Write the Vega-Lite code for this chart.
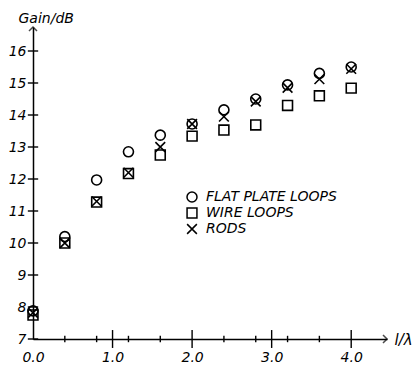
{
  "$schema": "https://vega.github.io/schema/vega-lite/v6.json",
  "width": 354,
  "height": 312,
  "autosize": {"type": "none"},
  "padding": {"left": 33, "top": 27, "right": 27, "bottom": 27},
  "background": "white",
  "config": {"view": {"stroke": null}, "font": "DejaVu Sans", "axis": {"labelOverlap": false, "labelFlush": false}},
  "datasets": {
    "ticks": [
      {"x": -0.065, "x2": 0.065, "y": 7, "y2": 7},
      {"x": -0.065, "x2": 0.065, "y": 8, "y2": 8},
      {"x": -0.065, "x2": 0.065, "y": 9, "y2": 9},
      {"x": -0.065, "x2": 0.065, "y": 10, "y2": 10},
      {"x": -0.065, "x2": 0.065, "y": 11, "y2": 11},
      {"x": -0.065, "x2": 0.065, "y": 12, "y2": 12},
      {"x": -0.065, "x2": 0.065, "y": 13, "y2": 13},
      {"x": -0.065, "x2": 0.065, "y": 14, "y2": 14},
      {"x": -0.065, "x2": 0.065, "y": 15, "y2": 15},
      {"x": -0.065, "x2": 0.065, "y": 16, "y2": 16},
      {"x": 0.4, "x2": 0.4, "y": 6.9, "y2": 7.1},
      {"x": 0.8, "x2": 0.8, "y": 6.9, "y2": 7.1},
      {"x": 1.0, "x2": 1.0, "y": 6.72, "y2": 7.28},
      {"x": 1.2, "x2": 1.2, "y": 6.9, "y2": 7.1},
      {"x": 1.6, "x2": 1.6, "y": 6.9, "y2": 7.1},
      {"x": 2.0, "x2": 2.0, "y": 6.72, "y2": 7.28},
      {"x": 2.4, "x2": 2.4, "y": 6.9, "y2": 7.1},
      {"x": 2.8, "x2": 2.8, "y": 6.9, "y2": 7.1},
      {"x": 3.0, "x2": 3.0, "y": 6.72, "y2": 7.28},
      {"x": 3.2, "x2": 3.2, "y": 6.9, "y2": 7.1},
      {"x": 3.6, "x2": 3.6, "y": 6.9, "y2": 7.1},
      {"x": 4.0, "x2": 4.0, "y": 6.72, "y2": 7.28}
    ],
    "gain": [
      {"x": 0.0, "series": "FLAT PLATE LOOPS", "y": 7.88},
      {"x": 0.4, "series": "FLAT PLATE LOOPS", "y": 10.2},
      {"x": 0.8, "series": "FLAT PLATE LOOPS", "y": 11.97},
      {"x": 1.2, "series": "FLAT PLATE LOOPS", "y": 12.85},
      {"x": 1.6, "series": "FLAT PLATE LOOPS", "y": 13.37},
      {"x": 2.0, "series": "FLAT PLATE LOOPS", "y": 13.72},
      {"x": 2.4, "series": "FLAT PLATE LOOPS", "y": 14.16},
      {"x": 2.8, "series": "FLAT PLATE LOOPS", "y": 14.5},
      {"x": 3.2, "series": "FLAT PLATE LOOPS", "y": 14.94},
      {"x": 3.6, "series": "FLAT PLATE LOOPS", "y": 15.3},
      {"x": 4.0, "series": "FLAT PLATE LOOPS", "y": 15.5},
      {"x": 0.0, "series": "WIRE LOOPS", "y": 7.75},
      {"x": 0.4, "series": "WIRE LOOPS", "y": 10.0},
      {"x": 0.8, "series": "WIRE LOOPS", "y": 11.28},
      {"x": 1.2, "series": "WIRE LOOPS", "y": 12.17},
      {"x": 1.6, "series": "WIRE LOOPS", "y": 12.75},
      {"x": 2.0, "series": "WIRE LOOPS", "y": 13.34},
      {"x": 2.4, "series": "WIRE LOOPS", "y": 13.53},
      {"x": 2.8, "series": "WIRE LOOPS", "y": 13.69},
      {"x": 3.2, "series": "WIRE LOOPS", "y": 14.3},
      {"x": 3.6, "series": "WIRE LOOPS", "y": 14.6},
      {"x": 4.0, "series": "WIRE LOOPS", "y": 14.84},
      {"x": 0.0, "series": "RODS", "y": 7.82},
      {"x": 0.4, "series": "RODS", "y": 10.0},
      {"x": 0.8, "series": "RODS", "y": 11.3},
      {"x": 1.2, "series": "RODS", "y": 12.2},
      {"x": 1.6, "series": "RODS", "y": 13.0},
      {"x": 2.0, "series": "RODS", "y": 13.72},
      {"x": 2.4, "series": "RODS", "y": 13.95},
      {"x": 2.8, "series": "RODS", "y": 14.42},
      {"x": 3.2, "series": "RODS", "y": 14.85},
      {"x": 3.6, "series": "RODS", "y": 15.12},
      {"x": 4.0, "series": "RODS", "y": 15.44}
    ],
    "xarrow": [{"x": 4.45, "y": 7}],
    "yarrow": [{"x": 0, "y": 16.75}]
  },
  "encoding": {
    "x": {
      "field": "x", "type": "quantitative",
      "scale": {"domain": [0, 4.45], "nice": false, "zero": false},
      "axis": {
        "values": [0, 1, 2, 3, 4], "format": ".1f", "ticks": false, "grid": false,
        "domainColor": "black", "domainWidth": 1.5, "labelOverlap": false,
        "labelPadding": 11, "labelFontSize": 14, "labelFontStyle": "italic", "labelColor": "black",
        "title": "l/λ", "titleX": 361, "titleY": 0, "titleAlign": "left", "titleBaseline": "middle",
        "titleFontStyle": "italic", "titleFontWeight": "normal", "titleFontSize": 15, "titleColor": "black"
      }
    },
    "y": {
      "field": "y", "type": "quantitative",
      "scale": {"domain": [7, 16.75], "nice": false, "zero": false},
      "axis": {
        "values": [7, 8, 9, 10, 11, 12, 13, 14, 15, 16], "format": "d", "ticks": false, "grid": false,
        "domainColor": "black", "domainWidth": 1.5, "labelOverlap": false,
        "labelPadding": 7, "labelFontSize": 14, "labelFontStyle": "italic", "labelColor": "black",
        "title": "Gain/dB", "titleAngle": 0, "titleX": -15, "titleY": -5, "titleAlign": "left",
        "titleBaseline": "alphabetic", "titleFontStyle": "italic", "titleFontWeight": "normal",
        "titleFontSize": 14, "titleColor": "black"
      }
    }
  },
  "layer": [
    {
      "data": {"name": "ticks"},
      "mark": {"type": "rule", "color": "black", "strokeWidth": 1.4},
      "encoding": {"x2": {"field": "x2"}, "y2": {"field": "y2"}}
    },
    {
      "data": {"name": "xarrow"},
      "mark": {"type": "point", "shape": "M-1,-1L0,0L-1,1", "size": 64, "filled": false, "color": "black", "strokeWidth": 1.5},
      "encoding": {}
    },
    {
      "data": {"name": "yarrow"},
      "mark": {"type": "point", "shape": "M-1,1L0,0L1,1", "size": 64, "filled": false, "color": "black", "strokeWidth": 1.5},
      "encoding": {}
    },
    {
      "data": {"name": "gain"},
      "mark": {"type": "point", "filled": false, "color": "black", "strokeWidth": 1.6, "opacity": 1},
      "encoding": {
        "shape": {
          "field": "series", "type": "nominal",
          "scale": {"domain": ["FLAT PLATE LOOPS", "WIRE LOOPS", "RODS"], "range": ["circle", "square", "M-1,-1L1,1M-1,1L1,-1"]},
          "legend": {
            "orient": "none", "legendX": 152, "legendY": 163, "title": null, "padding": 0,
            "labelFontSize": 14, "labelFontStyle": "italic", "labelColor": "black", "labelOffset": 7,
            "rowPadding": 0, "symbolStrokeColor": "black", "symbolStrokeWidth": 1.5
          }
        },
        "size": {
          "field": "series", "type": "nominal",
          "scale": {"domain": ["FLAT PLATE LOOPS", "WIRE LOOPS", "RODS"], "range": [100, 95, 40]},
          "legend": {
            "orient": "none", "legendX": 152, "legendY": 163, "title": null, "padding": 0,
            "labelFontSize": 14, "labelFontStyle": "italic", "labelColor": "black", "labelOffset": 7,
            "rowPadding": 0, "symbolStrokeColor": "black", "symbolStrokeWidth": 1.5
          }
        }
      }
    }
  ]
}
